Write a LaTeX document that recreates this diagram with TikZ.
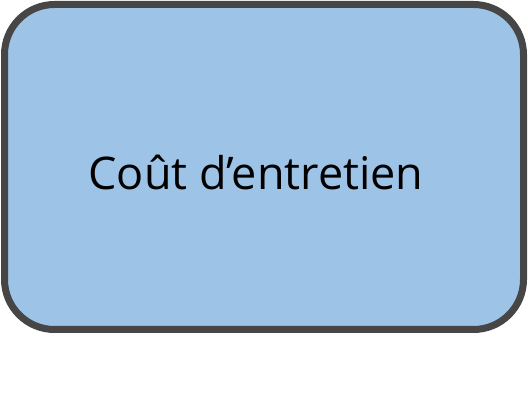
\documentclass[tikz,border=0pt]{standalone}
\usepackage{fontspec}
\setmainfont{Open Sans}
\usepackage{tikz}

\definecolor{boxblue}{HTML}{9DC3E6}
\definecolor{boxgray}{HTML}{464646}

\begin{document}
\begin{tikzpicture}[x=1pt,y=1pt,
	costbox/.style={draw=boxgray, fill=boxblue, line width=7pt, rounded corners=50pt}]
	% page frame
	\useasboundingbox (0,0) rectangle (528,402);
	% rounded box with its label
	\draw[costbox] (4.5,72.5) rectangle (523.5,397.5);
	\node[inner sep=0pt, font=\fontsize{45}{50}\selectfont] (cost) at (256,230) {Coût d’entretien};
\end{tikzpicture}
\end{document}
